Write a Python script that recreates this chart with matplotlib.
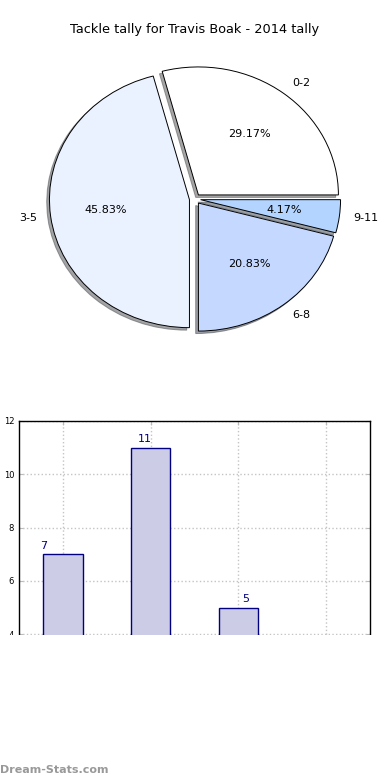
import matplotlib
matplotlib.use('Agg')
import matplotlib.pyplot as plt
from matplotlib.patches import Rectangle

# tackle ranges and number of games in each range
ranges = ['0-2', '3-5', '6-8', '9-11']
games = [7, 11, 5, 1]
pie_colors = ['#FFFFFF', '#EAF1FF', '#C5D8FF', '#B3D4FF']
yticks = [0, 2, 4, 6, 8, 10, 12]

fig = plt.figure(figsize=(3.9, 7.8), dpi=100)

fig.text(0.5, 1 - 30 / 780, 'Tackle tally for Travis Boak - 2014 tally',
         ha='center', va='center', fontsize=9.3)

# pie (elliptical, like the old matplotlib output)
ax1 = fig.add_axes([0, 1 - 350 / 780, 1, 300 / 780])
wedges, texts, autotexts = ax1.pie(
    games, labels=ranges, colors=pie_colors, explode=[0.04] * len(games),
    autopct='%1.2f%%', shadow={'ox': -0.014, 'oy': -0.014},
    startangle=0,
    wedgeprops={'edgecolor': 'black', 'linewidth': 0.7},
    textprops={'fontsize': 8})
ax1.set_aspect('auto')
ax1.set_xlim(-195 / 140, 195 / 140)
ax1.set_ylim(-151 / 128, 149 / 128)
ax1.axis('off')

# bar chart
ax2 = fig.add_axes([19 / 390, 1 - 741 / 780, 351 / 390, 320 / 780])
x = list(range(len(games)))
ax2.bar(x, games, width=0.45, color='#CCCCE6', edgecolor='navy', linewidth=1,
        zorder=2)
for i, g in enumerate(games):
    ax2.text(1.15 * i - 0.22, g + 0.12, str(g), ha='center', va='bottom',
             color='navy', fontsize=8)
ax2.set_xlim(-0.5, 3.5)
ax2.set_ylim(0, 12)
ax2.set_xticks(x)
ax2.set_xticklabels(ranges)
ax2.set_yticks(yticks)
ax2.tick_params(direction='in', top=True, right=True, labelsize=6,
                length=3, color='#bbbbbb')
ax2.grid(True, linestyle=':', color='#c4c4c4', linewidth=1, zorder=0)
ax2.set_axisbelow(True)
ax2.set_ylabel('Number of Games', fontsize=8)
for s in ax2.spines.values():
    s.set_linewidth(1)

# the original image is blank below the cut
fig.add_artist(Rectangle((0, 0), 1, 1 - 635 / 780, transform=fig.transFigure,
                         facecolor='white', edgecolor='none', zorder=10))
fig.text(0.0, 1 - 770 / 780, 'Dream-Stats.com', ha='left', va='center',
         fontsize=8, color='#999999', fontweight='bold', zorder=11)

fig.savefig('out.png', dpi=100)
